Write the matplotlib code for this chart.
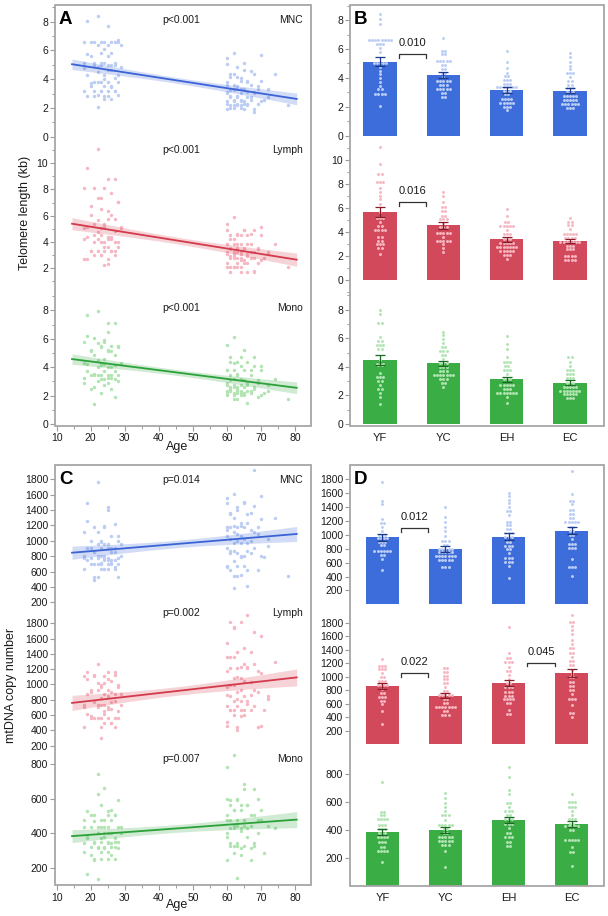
import numpy as np
import matplotlib
matplotlib.use('Agg')
import matplotlib.pyplot as plt
from matplotlib.patches import Rectangle
from matplotlib.ticker import MultipleLocator, FixedLocator

plt.rcParams['font.family'] = ['Liberation Sans', 'DejaVu Sans']

# ---------------- DATA ----------------
groups = ['YF', 'YC', 'EH', 'EC']
cells = ['MNC', 'Lymph', 'Mono']

young_ages = [22, 19, 25, 27, 21, 24, 18, 26, 23, 28,
              20, 25, 22, 29, 24, 19, 27, 23, 21, 26,
              25, 18, 22, 28, 24, 20, 26, 23, 27, 21,
              25, 19, 24, 22, 28, 23, 26, 20, 25, 27,
              21, 24, 18, 23, 29, 22, 26, 25, 19, 24,
              27, 21, 23, 28, 25, 22, 20, 26, 24, 27,
              23, 18, 25, 21, 22, 28, 24, 26, 19, 23]
elderly_ages = [62, 60, 65, 68, 63, 61, 66, 70, 64, 62,
                67, 60, 63, 69, 61, 65, 72, 62, 64, 66,
                60, 68, 63, 61, 67, 64, 71, 62, 65, 60,
                63, 69, 66, 61, 64, 62, 68, 70, 60, 65,
                63, 67, 61, 62, 74, 64, 66, 60, 69, 63,
                65, 61, 62, 68, 64, 60, 67, 63, 72, 66,
                61, 62, 65, 64, 70, 60, 63, 78, 62, 66,
                61, 64, 68, 60, 65, 63]

# Telomere length (kb)
tel_mnc_yf = [8.41, 8.06, 7.72, 6.61, 6.61, 6.61, 6.61, 6.61, 6.61, 6.61, 6.61, 6.36, 6.36, 6.36, 6.08, 5.76,
              5.0, 5.0, 5.0, 5.0, 5.0, 4.77, 4.49, 4.26, 3.98, 3.73, 3.46, 3.2, 3.2, 2.86, 2.86, 2.86, 2.86, 2.07]
tel_mnc_yc = [6.73, 5.85, 5.85, 5.62, 5.62, 5.14, 5.14, 5.14, 5.14, 5.14, 4.86, 4.86, 4.61, 4.61, 4.31, 4.31,
              4.08, 3.78, 3.78, 3.78, 3.78, 3.78, 3.5, 3.5, 3.5, 3.2, 3.2, 3.2, 3.2, 3.2, 2.93, 2.93, 2.65, 2.65]
tel_mnc_eh = [5.85, 5.09, 4.65, 4.35, 4.12, 4.12, 3.85, 3.85, 3.85, 3.57, 3.57, 3.57, 3.34, 3.34, 3.34, 3.34,
              3.34, 3.34, 3.34, 3.11, 3.11, 3.11, 2.86, 2.86, 2.53, 2.53, 2.53, 2.53, 2.28, 2.28, 2.28, 2.28,
              2.28, 2.0, 2.0, 2.0, 1.75]
tel_mnc_ec = [5.69, 5.46, 5.12, 4.82, 4.59, 4.35, 4.35, 4.35, 4.08, 3.78, 3.78, 3.5, 3.5, 3.27, 3.27, 3.27,
              3.04, 3.04, 3.04, 2.74, 2.74, 2.74, 2.74, 2.74, 2.47, 2.47, 2.47, 2.47, 2.47, 2.19, 2.19, 2.19,
              2.19, 2.19, 2.19, 1.94, 1.94, 1.94]

tel_lym_yf = [11.1, 9.64, 8.8, 8.8, 8.14, 8.14, 8.14, 7.7, 7.36, 7.03, 6.72, 6.33, 5.69, 5.14, 5.14, 5.14,
              4.8, 4.5, 4.5, 4.17, 4.17, 4.17, 4.17, 3.61, 3.61, 3.28, 3.28, 2.97, 2.97, 2.97, 2.64, 2.64, 2.17]
tel_lym_yc = [7.36, 7.03, 6.53, 6.06, 6.06, 5.75, 5.75, 5.36, 5.36, 5.06, 5.06, 5.06, 4.72, 4.39, 4.39, 4.39,
              3.94, 3.94, 3.94, 3.94, 3.94, 3.61, 3.28, 3.28, 3.28, 3.28, 3.28, 2.97, 2.64, 2.31]
tel_lym_eh = [5.89, 5.36, 4.86, 4.86, 4.5, 4.5, 4.5, 4.5, 4.5, 4.17, 3.83, 3.83, 3.83, 3.42, 3.42, 3.42,
              3.06, 3.06, 3.06, 3.06, 3.06, 2.72, 2.72, 2.72, 2.72, 2.72, 2.72, 2.72, 2.39, 2.39, 2.39, 2.39,
              2.39, 2.06, 2.06, 2.06, 1.72]
tel_lym_ec = [5.14, 4.86, 4.86, 4.58, 4.58, 4.22, 3.83, 3.83, 3.83, 3.83, 3.83, 3.53, 3.53, 3.53, 3.53, 3.19,
              3.19, 3.19, 3.19, 3.19, 3.19, 3.19, 2.86, 2.86, 2.86, 2.56, 2.56, 2.56, 2.03, 2.03, 2.03, 2.03,
              1.67, 1.67, 1.67, 1.67]

tel_mono_yf = [7.97, 7.69, 7.09, 7.09, 6.06, 5.8, 5.8, 5.52, 5.52, 5.52, 5.24, 5.24, 4.48, 4.2, 4.2, 4.2,
               4.13, 4.13, 3.55, 3.26, 3.26, 3.26, 3.0, 3.0, 2.73, 2.47, 2.47, 2.19, 1.91, 1.38]
tel_mono_yc = [6.46, 6.22, 5.94, 5.69, 5.41, 5.41, 5.13, 5.13, 5.13, 4.85, 4.85, 4.57, 4.29, 4.29, 4.29, 4.01,
               4.01, 4.01, 3.73, 3.73, 3.73, 3.43, 3.43, 3.43, 3.43, 3.43, 3.43, 3.43, 3.15, 3.15, 3.15, 2.89,
               2.89, 2.61]
tel_mono_eh = [6.15, 5.57, 5.24, 4.71, 4.34, 4.34, 4.34, 4.06, 4.06, 3.78, 3.78, 3.78, 3.5, 3.12, 3.12, 3.12,
               2.73, 2.73, 2.73, 2.73, 2.73, 2.45, 2.45, 2.45, 2.17, 2.17, 2.17, 2.17, 2.17, 2.17, 2.17, 1.91, 1.45]
tel_mono_ec = [4.71, 4.71, 4.31, 4.06, 3.78, 3.78, 3.78, 3.47, 3.47, 3.47, 3.19, 3.19, 3.19, 2.89, 2.89, 2.89,
               2.61, 2.61, 2.61, 2.61, 2.61, 2.33, 2.33, 2.33, 2.33, 2.33, 2.33, 2.33, 2.07, 2.07, 2.07, 2.07,
               2.07, 1.79, 1.79, 1.79]

# mtDNA copy number
mt_mnc_yf = [1766, 1493, 1440, 1224, 1176, 1176, 1118, 1061, 998, 998, 998, 960, 960, 960, 960, 902, 902, 902,
             850, 850, 773, 773, 773, 773, 773, 773, 710, 710, 658, 494]
mt_mnc_yc = [1406, 1262, 1190, 1118, 1056, 984, 912, 912, 912, 854, 854, 797, 797, 797, 797, 797, 749, 749,
             749, 749, 749, 696, 696, 696, 696, 696, 696, 696, 638, 638, 638, 638, 638, 533, 533, 533]
mt_mnc_eh = [1608, 1560, 1502, 1454, 1406, 1344, 1344, 1286, 1190, 1190, 1142, 1142, 1085, 1085, 1022, 1022,
             1022, 965, 965, 965, 902, 902, 845, 845, 845, 792, 792, 734, 672, 672, 672, 614, 614, 614, 552, 384]
mt_mnc_ec = [1925, 1589, 1493, 1493, 1440, 1358, 1358, 1296, 1296, 1238, 1238, 1181, 1181, 1181, 1181, 1181,
             1118, 1118, 1056, 1056, 998, 998, 936, 864, 864, 864, 806, 806, 806, 653, 542, 542, 542, 413]

mt_lym_yf = [1262, 1163, 1163, 1163, 1109, 1109, 1109, 1050, 991, 991, 932, 932, 932, 878, 878, 878, 878, 823,
             764, 764, 705, 705, 705, 646, 646, 592, 493, 296]
mt_lym_yc = [1124, 1124, 1075, 1075, 1016, 1016, 961, 961, 902, 902, 843, 789, 789, 735, 735, 735, 735, 735,
             675, 675, 616, 616, 557, 557, 557, 557, 557, 557, 557, 498, 498, 439, 439, 439]
mt_lym_eh = [1740, 1356, 1272, 1272, 1213, 1213, 1213, 1149, 1090, 1090, 1030, 966, 902, 902, 843, 843, 843,
             779, 779, 779, 720, 720, 720, 665, 665, 665, 665, 606, 606, 508, 444, 444]
mt_lym_ec = [1913, 1814, 1814, 1755, 1691, 1632, 1543, 1479, 1420, 1420, 1356, 1356, 1297, 1233, 1233, 1173,
             1173, 1099, 1040, 991, 991, 927, 927, 863, 863, 804, 804, 744, 666, 666, 666, 582, 458, 458, 399]

mt_mono_yf = [740, 530, 530, 506, 506, 475, 475, 475, 475, 435, 435, 435, 404, 404, 404, 375, 375, 375, 346,
              346, 346, 346, 315, 315, 315, 275, 275, 251, 251, 251, 251, 167]
mt_mono_yc = [661, 626, 595, 566, 535, 506, 506, 506, 470, 435, 435, 435, 435, 435, 404, 404, 380, 380, 351,
              351, 351, 351, 351, 322, 322, 322, 322, 322, 291, 291, 291, 248, 136]
mt_mono_eh = [853, 781, 685, 657, 595, 595, 566, 535, 535, 535, 506, 506, 478, 478, 478, 442, 442, 442, 411,
              380, 380, 346, 346, 346, 315, 315, 287, 287]
mt_mono_ec = [654, 597, 597, 597, 566, 566, 566, 535, 506, 475, 475, 475, 442, 442, 428, 428, 428, 428, 428,
              399, 399, 327, 327, 327, 327, 327, 275, 244, 244, 141]

# bar means and SEM (YF, YC, EH, EC)
tel_means = {'MNC': [5.13, 4.20, 3.17, 3.10], 'Lymph': [5.64, 4.58, 3.39, 3.25], 'Mono': [4.48, 4.24, 3.12, 2.88]}
tel_sems = {'MNC': [0.32, 0.23, 0.18, 0.17], 'Lymph': [0.42, 0.29, 0.21, 0.20], 'Mono': [0.34, 0.20, 0.20, 0.17]}
mt_means = {'MNC': [965, 797, 974, 1061], 'Lymph': [858, 720, 905, 1055], 'Mono': [387, 400, 470, 442]}
mt_sems = {'MNC': [52, 40, 53, 53], 'Lymph': [45, 40, 49, 65], 'Mono': [22, 21, 24, 22]}

tel_groups = {'MNC': [tel_mnc_yf, tel_mnc_yc, tel_mnc_eh, tel_mnc_ec],
              'Lymph': [tel_lym_yf, tel_lym_yc, tel_lym_eh, tel_lym_ec],
              'Mono': [tel_mono_yf, tel_mono_yc, tel_mono_eh, tel_mono_ec]}
mt_groups = {'MNC': [mt_mnc_yf, mt_mnc_yc, mt_mnc_eh, mt_mnc_ec],
             'Lymph': [mt_lym_yf, mt_lym_yc, mt_lym_eh, mt_lym_ec],
             'Mono': [mt_mono_yf, mt_mono_yc, mt_mono_eh, mt_mono_ec]}

tel_pvals = ['p<0.001', 'p<0.001', 'p<0.001']
mt_pvals = ['p=0.014', 'p=0.002', 'p=0.007']

# significance brackets: (cell, left group index, bracket top value, label)
tel_brackets = [('MNC', 0, 5.63, '0.010'), ('Lymph', 0, 6.47, '0.016')]
mt_brackets = [('MNC', 0, 1094, '0.012'), ('Lymph', 0, 1051, '0.022'), ('Lymph', 2, 1208, '0.045')]

# ---------------- STYLE ----------------
COL = {'MNC': dict(bar='#3d6ddb', dot='#bccdf5', line='#3a63d6', err='#1c3a8a'),
       'Lymph': dict(bar='#d2495b', dot='#f6b7c2', line='#d33a4b', err='#8a1c2a'),
       'Mono': dict(bar='#3bad45', dot='#b2e4b3', line='#2ba239', err='#1b6a24')}
FRAME = '#a6a6a6'
TICKC = '#9a9a9a'
TXT = '#1a1a1a'

W, H = 608, 916
fig = plt.figure(figsize=(W / 100, H / 100), dpi=100)


def add_ax(x0, y0, x1, y1):
    return fig.add_axes([x0 / W, 1 - y1 / H, (x1 - x0) / W, (y1 - y0) / H])


def ftext(x, y, s, **kw):
    fig.text(x / W, 1 - y / H, s, **kw)


def style(ax):
    for sp in ax.spines.values():
        sp.set_visible(False)
    ax.patch.set_alpha(0)
    ax.tick_params(axis='y', which='major', direction='out', length=3.5, width=0.8, color=TICKC,
                   labelsize=7.5, labelcolor=TXT, pad=1.5)
    ax.tick_params(axis='y', which='minor', direction='out', length=2, width=0.7, color=TICKC)
    ax.set_xticks([])


def draw_scatter(ax, ages, vals, c):
    x = np.asarray(ages, float)
    y = np.asarray(vals, float)
    slope, icpt = np.polyfit(x, y, 1)
    xs = np.linspace(14.5, 80.5, 100)
    yh = icpt + slope * xs
    n = len(x)
    res = y - (icpt + slope * x)
    s = np.sqrt((res ** 2).sum() / (n - 2))
    se = s * np.sqrt(1 / n + (xs - x.mean()) ** 2 / ((x - x.mean()) ** 2).sum())
    ax.scatter(x, y, s=6, color=c['dot'], lw=0, zorder=1)
    ax.fill_between(xs, yh - 1.98 * se, yh + 1.98 * se, color=c['line'], alpha=0.22, lw=0, zorder=2)
    ax.plot(xs, yh, color=c['line'], lw=1.3, zorder=3)


def draw_bars(ax, gvals, means, sems, c):
    for i, (vals, m, e) in enumerate(zip(gvals, means, sems)):
        ax.bar(i, m, width=0.526, color=c['bar'], zorder=1)
        xs, ys = [], []
        j = 0
        while j < len(vals):
            k = j
            while k < len(vals) and vals[k] == vals[j]:
                k += 1
            cnt = k - j
            for q in range(cnt):
                xs.append(i + (q - (cnt - 1) / 2) * 0.05)
                ys.append(vals[j])
            j = k
        ax.scatter(xs, ys, s=4.5, color=c['dot'], lw=0, zorder=2)
        ax.errorbar(i, m, yerr=e, color=c['err'], capsize=3.5, lw=0.9, capthick=0.9, zorder=3)


def draw_bracket(ax, g, ytop, label, px_h):
    lo, hi = ax.get_ylim()
    drop = (hi - lo) / px_h * 3.5
    x0, x1 = g + 0.3, g + 0.73
    ax.plot([x0, x0, x1, x1], [ytop - drop, ytop, ytop, ytop - drop], color='#333333', lw=0.9, zorder=4)
    ax.annotate(label, xy=((x0 + x1) / 2, ytop), xytext=(0, 8), textcoords='offset points',
                ha='center', va='center', fontsize=8, color=TXT)


# ---------------- LAYOUT ----------------
A_rows = [(5, 145, (-0.58, 9.16)), (145, 290, (0.29, 11.41)), (290, 425.7, (-0.12, 9.44))]
B_rows = [(5, 145, (-0.64, 9.04)), (145, 295, (-1.25, 11.25)), (295, 425.7, (-0.12, 9.03))]
C_rows = [(465, 605, (165, 1986)), (605, 750, (142, 2039)), (750, 885, (101.8, 880.8))]
D_rows = [(465, 608, (-53, 2006)), (608, 752, (-114, 2017)), (752, 885.7, (0, 957.7))]
A_text_y = [20, 150, 308]
C_text_y = [480, 613, 759]


def set_yticks(ax, kind, cell):
    if kind == 'tel':
        ax.yaxis.set_major_locator(MultipleLocator(2))
        ax.yaxis.set_minor_locator(MultipleLocator(1))
    else:
        if cell == 'Mono':
            ax.yaxis.set_major_locator(FixedLocator([200, 400, 600, 800]))
        else:
            ax.yaxis.set_major_locator(FixedLocator(list(range(200, 1801, 200))))


for kind, rows_s, rows_b, text_y, gdict, means, sems, pvals, brackets in [
        ('tel', A_rows, B_rows, A_text_y, tel_groups, tel_means, tel_sems, tel_pvals, tel_brackets),
        ('mt', C_rows, D_rows, C_text_y, mt_groups, mt_means, mt_sems, mt_pvals, mt_brackets)]:
    for r, cell in enumerate(cells):
        c = COL[cell]
        gv = gdict[cell]
        # scatter panel
        y0, y1, yl = rows_s[r]
        ax = add_ax(55, y0, 311, y1)
        style(ax)
        young = gv[0] + gv[1]
        old = gv[2] + gv[3]
        ages = young_ages[:len(young)] + elderly_ages[:len(old)]
        draw_scatter(ax, ages, young + old, c)
        ax.set_xlim(9.5, 84.7)
        ax.set_ylim(*yl)
        set_yticks(ax, kind, cell)
        if r == 2:
            ax.set_xticks(range(10, 81, 10))
            ax.xaxis.set_minor_locator(MultipleLocator(5))
            ax.tick_params(axis='x', which='major', direction='out', length=3.5, width=0.8, color=TICKC,
                           labelsize=7.5, labelcolor=TXT, pad=2)
            ax.tick_params(axis='x', which='minor', direction='out', length=2, width=0.7, color=TICKC)
        ftext(181, text_y[r], pvals[r], ha='center', va='center', fontsize=7.5, color=TXT)
        ftext(303, text_y[r], cell, ha='right', va='center', fontsize=7.5, color=TXT)

        # bar panel
        y0, y1, yl = rows_b[r]
        ax = add_ax(350, y0, 604, y1)
        style(ax)
        draw_bars(ax, gv, means[cell], sems[cell], c)
        if kind == 'tel':
            ax.set_xlim(-0.474, 3.537)
        else:
            ax.set_xlim(-0.512, 3.512)
        ax.set_ylim(*yl)
        set_yticks(ax, kind, cell)
        for (bc, g, yt, lab) in brackets:
            if bc == cell:
                draw_bracket(ax, g, yt, lab, y1 - y0)
        if r == 2:
            ax.set_xticks(range(4))
            ax.set_xticklabels(groups)
            ax.tick_params(axis='x', length=0, labelsize=8, labelcolor=TXT, pad=5)

# frames
for (x0, y0, x1, y1) in [(55, 5, 311, 425.7), (350, 5, 604, 425.7), (55, 465, 311, 885), (350, 465, 604, 885.7)]:
    fig.patches.append(Rectangle((x0 / W, 1 - y1 / H), (x1 - x0) / W, (y1 - y0) / H, transform=fig.transFigure,
                                 fill=False, edgecolor=FRAME, lw=1.3))

# panel letters
for lab, x, y in [('A', 59, 20), ('B', 354, 20), ('C', 59, 480), ('D', 354, 480)]:
    ftext(x, y, lab, ha='left', va='center', fontsize=13.5, fontweight='bold', color='#000000')

ftext(177, 447, 'Age', ha='center', va='center', fontsize=9, color=TXT)
ftext(177, 905, 'Age', ha='center', va='center', fontsize=9, color=TXT)
ftext(25, 213, 'Telomere length (kb)', ha='center', va='center', rotation=90, fontsize=9, color=TXT)
ftext(11, 685, 'mtDNA copy number', ha='center', va='center', rotation=90, fontsize=9, color=TXT)

fig.savefig('out.png', dpi=100)
